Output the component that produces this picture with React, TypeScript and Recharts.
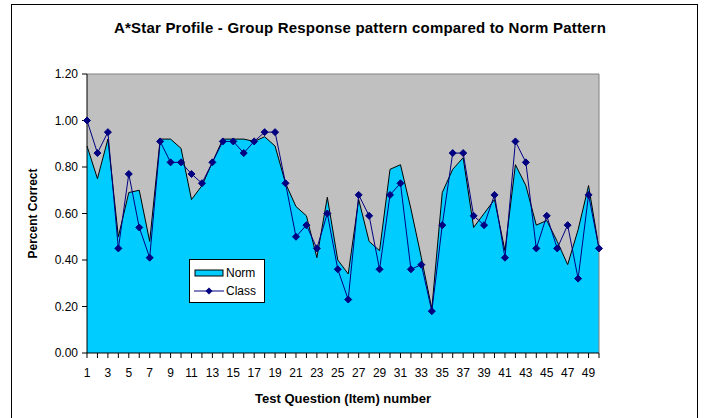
import {
  ComposedChart,
  Area,
  Line,
  XAxis,
  YAxis,
  CartesianGrid,
  ReferenceLine,
  Legend,
} from 'recharts'

// Numéros de question 1..50
const items = [
  1, 2, 3, 4, 5, 6, 7, 8, 9, 10, 11, 12, 13, 14, 15, 16, 17, 18, 19, 20, 21, 22, 23, 24, 25,
  26, 27, 28, 29, 30, 31, 32, 33, 34, 35, 36, 37, 38, 39, 40, 41, 42, 43, 44, 45, 46, 47, 48, 49, 50,
]

// Norm pattern (aire cyan)
const normValues = [
  0.89, 0.75, 0.92, 0.5, 0.69, 0.7, 0.48, 0.92, 0.92, 0.88,
  0.66, 0.72, 0.82, 0.92, 0.92, 0.92, 0.91, 0.93, 0.89, 0.73,
  0.63, 0.59, 0.41, 0.67, 0.4, 0.34, 0.66, 0.48, 0.44, 0.79,
  0.81, 0.62, 0.41, 0.19, 0.69, 0.79, 0.84, 0.54, 0.6, 0.66,
  0.44, 0.81, 0.72, 0.55, 0.57, 0.48, 0.38, 0.53, 0.72, 0.45,
]

// Class (ligne avec losanges)
const classValues = [
  1.0, 0.86, 0.95, 0.45, 0.77, 0.54, 0.41, 0.91, 0.82, 0.82,
  0.77, 0.73, 0.82, 0.91, 0.91, 0.86, 0.91, 0.95, 0.95, 0.73,
  0.5, 0.55, 0.45, 0.6, 0.36, 0.23, 0.68, 0.59, 0.36, 0.68,
  0.73, 0.36, 0.38, 0.18, 0.55, 0.86, 0.86, 0.59, 0.55, 0.68,
  0.41, 0.91, 0.82, 0.45, 0.59, 0.45, 0.55, 0.32, 0.68, 0.45,
]

const yTicks = [0, 0.2, 0.4, 0.6, 0.8, 1.0, 1.2]

const data = items.map((item, i) => ({
  item,
  norm: normValues[i],
  klass: classValues[i],
}))

const FONT = '"Liberation Sans", Arial, sans-serif'

const Diamond = ({ cx, cy }: any) => {
  if (cx == null || cy == null) return null
  const s = 3.5
  return (
    <polygon
      points={`${cx},${cy - s} ${cx + s},${cy} ${cx},${cy + s} ${cx - s},${cy}`}
      fill="#000080"
      stroke="#000080"
    />
  )
}

// Tick: trait pour chaque question, libellé une sur deux
const XTick = ({ x, y, payload, index }: any) => (
  <g>
    <line x1={x} y1={y - 8} x2={x} y2={y - 3} stroke="#000" />
    {index % 2 === 0 && (
      <text x={x} y={y + 16} textAnchor="middle" fontSize={12} fontFamily={FONT} fill="#000">
        {payload.value}
      </text>
    )}
  </g>
)

const LegendBox = () => (
  <div
    style={{
      width: 76,
      height: 44,
      border: '1px solid #000',
      background: '#fff',
      fontFamily: FONT,
      fontSize: 12,
      color: '#000',
      boxSizing: 'border-box',
      padding: '4px 0 0 4px',
    }}
  >
    <div style={{ display: 'flex', alignItems: 'center', height: 18 }}>
      <svg width={30} height={10}>
        <rect x={1} y={2} width={28} height={6} fill="#00CCFF" stroke="#000" />
      </svg>
      <span style={{ marginLeft: 2 }}>Norm</span>
    </div>
    <div style={{ display: 'flex', alignItems: 'center', height: 18 }}>
      <svg width={30} height={10}>
        <line x1={0} y1={5} x2={30} y2={5} stroke="#000080" />
        <polygon points="15,1.5 18.5,5 15,8.5 11.5,5" fill="#000080" />
      </svg>
      <span style={{ marginLeft: 2 }}>Class</span>
    </div>
  </div>
)

export default function App() {
  return (
    <div
      style={{
        position: 'absolute',
        left: 0,
        top: 0,
        width: 706,
        height: 418,
        background: '#fff',
        overflow: 'hidden',
      }}
    >
      {/* Cadre extérieur */}
      <div
        style={{
          position: 'absolute',
          left: 11,
          top: 4,
          width: 687,
          height: 430,
          border: '1px solid #000',
          boxSizing: 'border-box',
        }}
      />

      {/* Titre */}
      <div
        style={{
          position: 'absolute',
          left: 0,
          top: 19,
          width: 720,
          textAlign: 'center',
          fontFamily: FONT,
          fontWeight: 'bold',
          fontSize: 15,
          letterSpacing: 0.2,
        }}
      >
        A*Star Profile - Group Response pattern compared to Norm Pattern
      </div>

      <div style={{ position: 'absolute', left: 0, top: 0 }}>
        <ComposedChart
          width={706}
          height={418}
          data={data}
          margin={{ top: 74, right: 107, left: 27, bottom: 35 }}
        >
          <CartesianGrid fill="#C0C0C0" horizontal={false} vertical={false} />
          <ReferenceLine y={1.2} stroke="#808080" />
          <ReferenceLine x={50} stroke="#808080" />

          <XAxis
            dataKey="item"
            interval={0}
            height={30}
            axisLine={{ stroke: '#000' }}
            tickLine={false}
            tick={<XTick />}
            label={{
              value: 'Test Question (Item) number',
              position: 'insideBottom',
              offset: -20,
              fontFamily: FONT,
              fontWeight: 'bold',
              fontSize: 13,
              fill: '#000',
            }}
          />
          <YAxis
            domain={[0, 1.2]}
            ticks={yTicks}
            width={60}
            axisLine={{ stroke: '#000' }}
            tickLine={{ stroke: '#000' }}
            tickSize={5}
            tickMargin={4}
            tickFormatter={(v: number) => v.toFixed(2)}
            tick={{ fontSize: 12, fontFamily: FONT, fill: '#000' }}
            label={{
              value: 'Percent Correct',
              angle: -90,
              position: 'insideLeft',
              offset: 6,
              style: { textAnchor: 'middle' },
              fontFamily: FONT,
              fontWeight: 'bold',
              fontSize: 12,
              fill: '#000',
            }}
          />

          <Area
            type="linear"
            dataKey="norm"
            name="Norm"
            fill="#00CCFF"
            fillOpacity={1}
            stroke="#000"
            strokeWidth={1}
            isAnimationActive={false}
          />
          <Line
            type="linear"
            dataKey="klass"
            name="Class"
            stroke="#000080"
            strokeWidth={1}
            dot={<Diamond />}
            activeDot={false}
            isAnimationActive={false}
          />

          <Legend
            layout="horizontal"
            verticalAlign="middle"
            align="center"
            content={<LegendBox />}
            wrapperStyle={{ left: 189, top: 259, width: 76, height: 44 }}
          />
        </ComposedChart>
      </div>
    </div>
  )
}
